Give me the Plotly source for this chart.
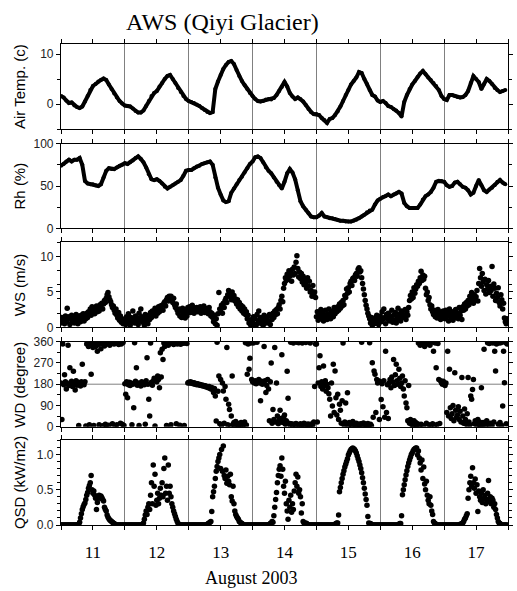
import pandas as pd
import plotly.graph_objects as go

# ---------------- data ----------------
START = "2003-08-11 00:00"
END = "2003-08-18 00:00"

# hourly air temperature (deg C), Aug 11..17
temp_d11 = [1.6,1.3,0.7,0.2,0.3,-0.3,-0.6,-0.8,-0.5,0.5,1.6,2.8,3.6,4.0,4.5,4.8,5.1,4.8,3.9,3.0,2.1,1.3,0.6,0.1]
temp_d12 = [-0.3,-0.4,-0.5,-0.9,-1.4,-1.7,-1.7,-1.3,-0.4,0.6,1.6,2.2,2.6,3.5,4.2,5.0,5.6,5.8,5.0,4.2,3.2,2.4,1.6,1.0]
temp_d13 = [0.6,0.4,0.2,-0.1,-0.4,-0.8,-1.2,-1.6,-1.8,-1.6,3.0,4.5,5.8,7.0,7.8,8.4,8.6,8.0,6.8,5.6,4.6,3.8,3.0,2.2]
temp_d14 = [1.6,1.0,0.6,0.5,0.6,0.9,1.0,0.9,1.2,1.8,2.6,3.4,4.4,3.5,2.2,1.5,1.0,1.3,1.0,0.5,-0.2,-1.0,-1.6,-2.0]
temp_d15 = [-2.0,-2.2,-2.8,-3.2,-3.8,-3.0,-2.8,-2.2,-1.5,-0.5,0.6,1.8,2.8,3.9,4.6,5.3,6.4,6.2,5.0,4.0,2.8,1.8,1.5,0.7]
temp_d16 = [0.4,0.6,0.2,-0.4,-0.6,-1.0,-1.3,-1.8,-2.5,0.4,1.8,3.0,3.9,4.6,5.4,6.1,6.6,6.0,5.3,4.8,4.2,3.6,2.8,1.6]
temp_d17 = [1.0,0.8,1.8,1.8,1.6,1.4,1.3,1.4,1.8,2.6,4.2,5.6,5.0,4.4,3.0,4.0,5.0,4.6,4.0,3.2,2.8,2.4,2.6,2.8]

# hourly relative humidity (%)
rh_d11 = [74,76,79,81,79,81,81,83,75,56,53,52,52,51,50,52,60,68,71,70,70,72,74,75]
rh_d12 = [77,76,78,80,83,85,82,78,72,64,58,57,58,56,53,49,47,49,51,53,55,57,62,68]
rh_d13 = [69,69,71,73,74,76,77,78,79,75,60,48,40,33,31,32,42,47,52,57,61,66,71,76]
rh_d14 = [79,84,85,83,78,72,68,65,60,55,51,47,55,65,70,66,58,45,32,26,22,18,14,13]
rh_d15 = [13,15,18,14,13,12,12,11,10,9,9,8,8,8,9,10,12,14,16,19,21,22,28,33]
rh_d16 = [35,37,38,40,38,40,41,43,41,30,26,24,24,24,24,28,34,38,40,43,48,55,56,56]
rh_d17 = [55,51,49,50,54,55,52,49,48,45,40,42,50,57,51,45,43,46,48,51,55,57,54,52]

# 20-minute wind speed (m/s)
ws_d11 = [0.6,1.4,0.9, 1.2,0.5,1.6, 0.8,2.7,1.1, 1.5,0.4,1.3, 1.7,0.9,1.4, 0.6,1.5,1.8,
          1.0,0.5,1.6, 1.3,0.8,1.7, 1.1,1.9,0.9, 1.6,1.2,2.0, 1.4,2.2,1.8, 2.6,1.7,2.9,
          2.1,2.7,1.9, 2.4,3.0,2.2, 2.8,2.3,3.2, 2.9,3.4,2.6, 3.3,3.8,3.5, 4.1,4.6,4.9,
          4.3,3.9,3.6, 3.2,2.8,3.0, 2.4,2.0,2.6, 1.7,1.3,2.1, 1.0,1.6,0.7, 1.2,0.5,1.0]
ws_d12 = [1.0,0.4,1.5, 0.7,1.9,1.2, 0.3,1.4,0.8, 2.3,1.1,0.6, 1.6,0.9,1.3, 0.4,2.0,1.0,
          2.6,1.5,0.7, 1.2,0.3,1.8, 0.9,1.4,0.5, 1.7,1.1,2.1, 1.4,2.3,1.8, 2.0,2.7,1.6,
          2.5,2.0,2.9, 2.2,3.0,2.6, 3.1,2.4,3.4, 3.6,3.0,3.9, 4.2,3.7,4.4, 4.0,4.4,3.8,
          3.5,4.1,3.2, 2.8,3.3,2.4, 2.0,2.6,1.6, 2.3,1.4,2.7, 1.8,2.5,1.3, 2.2,1.6,2.8]
ws_d13 = [2.4,2.9,2.1, 2.6,3.1,2.3, 2.0,2.7,2.5, 2.8,2.2,2.6, 2.3,2.9,2.0, 2.6,2.4,3.0,
          2.1,2.7,2.4, 2.5,1.9,2.8, 2.2,1.6,2.0, 1.4,0.8,1.7, 0.5,1.2,0.3, 1.9,4.9,2.6,
          2.3,3.1,2.0, 3.4,2.8,3.8, 4.1,3.5,4.6, 5.2,4.4,4.9, 3.9,5.0,4.3, 4.5,3.7,4.0,
          3.3,3.9,2.9, 3.5,2.6,3.1, 2.3,2.9,2.0, 2.6,1.8,2.2, 1.2,1.7,0.6, 0.9,0.3,1.1]
ws_d14 = [0.8,1.5,0.4, 1.2,0.3,1.8, 0.6,2.3,1.0, 1.4,0.5,1.1, 0.3,1.7,0.9, 1.3,0.6,1.5,
          0.9,1.8,0.4, 1.6,1.1,2.0, 1.4,2.3,1.8, 2.5,1.9,2.8, 3.2,2.6,3.8, 4.4,3.6,5.5,
          6.2,7.0,6.6, 7.5,6.8,8.0, 7.2,7.8,6.5, 8.2,7.4,8.5, 7.6,9.2,10.1, 8.3,7.1,7.8,
          6.9,7.6,6.4, 7.2,6.0,6.8, 6.3,5.5,7.0, 5.8,6.5,5.0, 5.2,4.4,5.9, 4.5,5.0,4.2]
ws_d15 = [1.5,2.2,1.0, 1.8,1.2,2.5, 1.4,2.0,0.9, 1.7,2.4,1.3, 1.1,1.9,2.6, 1.6,1.2,2.1,
          2.3,1.5,2.8, 1.9,2.6,2.2, 2.9,2.4,3.3, 2.7,3.5,3.0, 3.8,3.2,4.5, 4.2,5.4,4.8,
          5.6,5.0,6.2, 6.5,5.9,6.9, 7.0,6.6,7.4, 7.6,7.2,8.2, 8.4,7.8,8.0, 7.0,6.2,5.4,
          4.6,3.8,3.1, 2.6,2.0,1.6, 1.2,0.6,1.4, 0.3,1.0,0.5, 1.3,0.8,1.7, 1.0,0.4,1.5]
ws_d16 = [1.6,0.8,2.2, 1.1,2.6,1.4, 0.5,1.8,1.2, 2.0,0.9,1.5, 1.3,2.4,0.7, 1.7,1.0,2.1,
          0.6,1.5,2.7, 1.2,1.9,0.9, 2.3,1.4,1.8, 1.6,2.5,1.1, 2.2,1.7,2.8, 3.8,4.5,4.0,
          5.0,4.2,5.6, 4.8,5.4,6.0, 5.8,6.5,6.2, 7.0,7.9,6.6, 7.4,6.8,7.2, 5.5,4.6,5.0,
          3.8,4.2,3.2, 2.6,3.0,2.2, 1.8,2.4,1.5, 2.0,1.3,2.5, 1.6,2.2,1.1, 1.9,1.4,2.3]
ws_d17 = [1.8,1.2,2.4, 1.5,2.1,0.9, 2.6,1.7,1.3, 2.2,1.0,1.9, 1.4,2.5,1.6, 2.0,1.2,2.8,
          1.7,2.3,1.1, 2.9,2.4,3.3, 2.6,3.5,3.0, 3.8,3.2,4.4, 3.6,4.9,4.1, 3.4,4.6,3.9,
          4.3,5.2,3.7, 6.2,8.3,7.0, 5.8,7.6,6.4, 5.2,6.8,4.7, 6.0,5.4,6.6, 4.9,5.8,5.2,
          8.6,4.4,6.1, 5.5,3.8,4.8, 4.2,5.6,3.5, 3.0,4.6,3.9, 2.6,3.4,1.3, 0.8,0.5,1.2]

# 20-minute wind direction (degree)
wd_d11 = [185,30,350, 178,220,190, 160,182,345, 175,250,188, 192,170,235, 183,155,195,
          176,188,5, 180,172,190, 265,185,178, 190,3,350, 355,340,8, 358,222,352,
          335,5,350, 340,355,320, 348,8,357, 330,352,4, 356,342,10, 6,350,358,
          6,345,355, 358,12,352, 350,4,357, 8,355,348, 356,15,350, 10,357,5]
wd_d12 = [182,137,190, 123,178,188, 175,185,8, 180,80,356, 192,250,176, 185,5,180,
          172,190,183, 186,178,10, 195,292,180, 116,45,355, 188,176,192, 205,3,198,
          190,215,200, 165,313,210, 328,285,355, 340,358,5, 350,345,357, 352,8,356,
          358,348,354, 355,12,350, 357,352,6, 349,356,358, 353,5,355, 358,352,185]
wd_d13 = [188,185,190, 184,187,182, 186,180,183, 178,182,180, 176,179,175, 177,172,174,
          170,173,168, 168,165,170, 163,160,166, 158,145,162, 130,24,358, 150,215,12,
          200,5,185, 151,15,170, 116,335,8, 95,73,3, 45,215,10, 18,5,22,
          8,14,3, 12,6,18, 4,15,9, 20,356,7, 222,350,243, 290,355,200]
wd_d14 = [190,355,185, 195,182,358, 188,200,185, 110,192,180, 186,340,195, 145,175,200,
          160,25,190, 270,15,73, 30,335,20, 185,45,12, 28,70,35, 305,18,40,
          50,10,25, 235,120,15, 8,358,12, 5,355,10, 3,14,358, 9,356,6,
          12,4,354, 7,15,3, 357,10,5, 11,2,355, 6,13,8, 20,170,350]
wd_d15 = [350,20,185, 250,300,170, 190,160,257, 175,195,150, 180,165,140, 116,45,185,
          88,264,60, 236,123,50, 137,30,95, 70,15,110, 355,8,20, 100,12,144,
          5,18,10, 14,3,22, 8,12,4, 15,6,10, 3,9,13, 358,7,16,
          5,11,2, 8,14,6, 356,10,4, 271,40,236, 222,60,200, 185,195,30]
wd_d16 = [190,115,182, 85,195,40, 320,60,178, 35,185,200, 165,210,190, 285,175,220,
          264,195,180, 243,205,170, 185,215,160, 130,195,100, 80,25,175, 15,30,10,
          20,5,25, 8,18,3, 12,355,6, 345,10,358, 352,4,340, 357,15,350,
          356,8,345, 5,358,12, 320,3,355, 250,9,352, 200,14,195, 186,180,192]
wd_d17 = [180,175,185, 60,320,45, 243,80,35, 55,90,25, 229,70,40, 50,85,30,
          65,20,208, 45,15,75, 30,10,55, 208,20,8, 130,116,158, 200,12,25,
          15,5,30, 10,20,3, 165,8,18, 328,12,5, 25,356,10, 352,15,358,
          6,355,20, 320,236,350, 358,10,354, 18,356,5, 88,320,186, 357,12,350]

# 20-minute shortwave radiation (kW/m2)
qsd_d11 = [0,0,0, 0,0,0, 0,0,0, 0,0,0, 0,0,0, 0,0,0,
           0,0,0.01, 0.04,0.1,0.16, 0.22,0.26,0.29, 0.31,0.36,0.42, 0.46,0.52,0.56, 0.6,0.7,0.5,
           0.45,0.48,0.42, 0.38,0.22,0.32, 0.4,0.42,0.38, 0.41,0.39,0.36, 0.34,0.25,0.22, 0.2,0.14,0.11,
           0.09,0.07,0.06, 0.05,0.04,0.03, 0.02,0.01,0, 0,0,0, 0,0,0, 0,0,0]
qsd_d12 = [0,0,0, 0,0,0, 0,0,0, 0,0,0, 0,0,0, 0,0,0,
           0,0,0.01, 0.03,0.08,0.14, 0.2,0.15,0.25, 0.3,0.22,0.42, 0.6,0.3,0.85, 0.55,0.72,0.28,
           0.35,0.45,0.3, 0.38,0.52,0.42, 0.6,0.4,0.8, 0.95,0.45,0.55, 0.35,0.85,0.45, 0.55,0.4,0.3,
           0.25,0.2,0.16, 0.12,0.08,0.05, 0.02,0.01,0, 0,0,0, 0,0,0, 0,0,0]
qsd_d13 = [0,0,0, 0,0,0, 0,0,0, 0,0,0, 0,0,0, 0,0,0,
           0,0,0, 0.01,0.02,0.03, 0.04,0.05,0.19, 0.4,0.47,0.55, 0.66,0.76,0.83, 0.9,0.95,1.0,
           0.8,1.07,0.76, 1.12,0.7,0.66, 0.78,0.59,0.69, 0.62,0.57,0.72, 0.4,0.34,0.55, 0.3,0.2,0.15,
           0.12,0.1,0.08, 0.05,0.04,0.03, 0.02,0.01,0, 0,0,0, 0,0,0, 0,0,0]
qsd_d14 = [0,0,0, 0,0,0, 0,0,0, 0,0,0, 0,0,0, 0,0,0,
           0,0.01,0.02, 0.03,0.05,0.04, 0.13,0.25,0.36, 0.46,0.6,0.7, 0.79,0.84,0.69, 0.95,0.79,0.55,
           0.45,0.62,0.3, 0.2,0.08,0.35, 0.25,0.42,0.18, 0.3,0.22,0.48, 0.6,0.72,0.55, 0.68,0.45,0.5,
           0.4,0.17,0.3, 0.05,0.03,0.02, 0.03,0.02,0.01, 0,0,0, 0,0,0, 0,0,0]
qsd_d15 = [0,0,0, 0,0,0, 0,0,0, 0,0,0, 0,0,0, 0,0,0,
           0,0,0, 0.01,0.02,0.03, 0.03,0.14,0.47, 0.53,0.6,0.66, 0.72,0.77,0.82, 0.86,0.9,0.94,
           0.99,1.02,1.05, 1.07,1.08,1.09, 1.08,1.07,1.05, 1.02,0.98,0.94, 0.9,0.85,0.8, 0.74,0.67,0.6,
           0.52,0.44,0.36, 0.28,0.12,0.03, 0.02,0.02,0.01, 0,0,0, 0,0,0, 0,0,0]
qsd_d16 = [0,0,0, 0,0,0, 0,0,0, 0,0,0, 0,0,0, 0,0,0,
           0,0,0, 0.01,0.02,0.02, 0.13,0.43,0.5, 0.57,0.64,0.71, 0.77,0.83,0.88, 0.92,0.96,1.0,
           1.02,1.05,1.07, 1.08,1.09,1.09, 0.99,1.05,0.95, 0.88,0.78,0.92, 0.66,0.82,0.58, 0.5,0.62,0.42,
           0.35,0.3,0.4, 0.28,0.2,0.15, 0.05,0.03,0.02, 0,0,0, 0,0,0, 0,0,0]
qsd_d17 = [0,0,0, 0,0,0, 0,0,0, 0,0,0, 0,0,0, 0,0,0,
           0.01,0.01,0.02, 0.03,0.05,0.08, 0.1,0.13,0.16, 0.38,0.5,0.6, 0.69,0.55,0.81, 0.6,0.52,0.65,
           0.45,0.57,0.19, 0.48,0.4,0.35, 0.45,0.32,0.5, 0.38,0.42,0.3, 0.36,0.45,0.63, 0.33,0.4,0.3,
           0.38,0.35,0.25, 0.3,0.22,0.15, 0.1,0.05,0.03, 0.02,0,0, 0,0,0, 0,0,0]

panel_titles = ["Air Temp. (c)", "Rh (%)", "WS (m/s)", "WD (degree)", "QSD (kW/m2)"]

temp_c = temp_d11 + temp_d12 + temp_d13 + temp_d14 + temp_d15 + temp_d16 + temp_d17
rh_pct = rh_d11 + rh_d12 + rh_d13 + rh_d14 + rh_d15 + rh_d16 + rh_d17
ws_ms = ws_d11 + ws_d12 + ws_d13 + ws_d14 + ws_d15 + ws_d16 + ws_d17
wd_deg = wd_d11 + wd_d12 + wd_d13 + wd_d14 + wd_d15 + wd_d16 + wd_d17
qsd_kw = qsd_d11 + qsd_d12 + qsd_d13 + qsd_d14 + qsd_d15 + qsd_d16 + qsd_d17

t_hour = pd.date_range(START, periods=len(temp_c), freq="h")
t_20 = pd.date_range(START, periods=len(ws_ms), freq="20min")

# ---------------- figure ----------------
W, H = 517, 591
L, R, T, B = 61, 4, 44, 66
ph = H - T - B
panels_px = [(44, 129), (143.7, 228.3), (242.3, 327.3), (341.7, 426.7), (440.3, 525)]
domains = [[(H - B - b) / ph, (H - B - t) / ph] for (t, b) in panels_px]

fig = go.Figure()
mk = dict(color="black", size=5.5)
fig.add_trace(go.Scatter(x=t_hour, y=temp_c, mode="lines+markers",
                         line=dict(color="black", width=4), marker=dict(color="black", size=4),
                         xaxis="x", yaxis="y"))
fig.add_trace(go.Scatter(x=t_hour, y=rh_pct, mode="lines+markers",
                         line=dict(color="black", width=4), marker=dict(color="black", size=4),
                         xaxis="x2", yaxis="y2"))
fig.add_trace(go.Scatter(x=t_20, y=ws_ms, mode="markers", marker=mk, xaxis="x3", yaxis="y3"))
fig.add_trace(go.Scatter(x=t_20, y=wd_deg, mode="markers", marker=mk, xaxis="x4", yaxis="y4"))
fig.add_trace(go.Scatter(x=t_20, y=qsd_kw, mode="markers", marker=mk, xaxis="x5", yaxis="y5"))

sans = "Liberation Sans, Arial, sans-serif"
serif = "Liberation Serif, Times New Roman, serif"

xcommon = dict(type="date", range=[START, END], showline=True, linecolor="black", linewidth=1.2,
               mirror="allticks", ticks="outside", ticklen=4, tickcolor="black",
               tick0=START, dtick=86400000, showgrid=True, gridcolor="#808080", gridwidth=1,
               zeroline=False,
               minor=dict(dtick=43200000, ticks="outside", ticklen=4, tickcolor="black", showgrid=False))

yspecs = [
    dict(range=[-5, 12], tick0=0, dtick=10, minor=dict(dtick=5)),
    dict(range=[0, 100], tick0=0, dtick=50, minor=dict(dtick=25)),
    dict(range=[0, 12], tick0=0, dtick=5, minor=dict(dtick=2)),
    dict(range=[0, 360], tick0=0, dtick=90, minor=dict(dtick=45)),
    dict(range=[0, 1.2], tick0=0, dtick=0.5, tickformat=".1f", minor=dict(dtick=0.1)),
]

layout = dict(width=W, height=H, margin=dict(l=L, r=R, t=T, b=B),
              paper_bgcolor="white", plot_bgcolor="white", showlegend=False)

for i in range(5):
    n = "" if i == 0 else str(i + 1)
    xa = dict(xcommon)
    xa["anchor"] = "y" + n
    xa["domain"] = [0, 1]
    if i < 4:
        xa["matches"] = "x5"
        xa["showticklabels"] = False
    else:
        xa["showticklabels"] = True
        xa["ticklabelmode"] = "period"
        xa["tickformat"] = "%d"
        xa["tickfont"] = dict(family=serif, size=17, color="black")
        xa["ticklabelstandoff"] = 7
    layout["xaxis" + n] = xa

    ys = yspecs[i]
    ya = dict(domain=domains[i], anchor="x" + n, range=ys["range"], tick0=ys["tick0"], dtick=ys["dtick"],
              showline=True, linecolor="black", linewidth=1.2, mirror="allticks",
              ticks="outside", ticklen=4, tickcolor="black", showgrid=False, zeroline=False,
              tickfont=dict(family=sans, size=12, color="#222"),
              minor=dict(dtick=ys["minor"]["dtick"], ticks="outside", ticklen=3, tickcolor="black",
                         showgrid=False))
    if "tickformat" in ys:
        ya["tickformat"] = ys["tickformat"]
    layout["yaxis" + n] = ya

fig.update_layout(**layout)

# horizontal reference line at 180 degrees in the WD panel
fig.add_shape(type="line", xref="x4 domain", yref="y4", x0=0, x1=1, y0=180, y1=180,
              line=dict(color="#808080", width=1), layer="below")

# panel titles
for i, txt in enumerate(panel_titles):
    n = "" if i == 0 else str(i + 1)
    fig.add_annotation(text=txt, xref="paper", yref="y" + n + " domain",
                       x=(19 - L) / (W - L - R), y=0.5, textangle=-90, showarrow=False,
                       xanchor="center", yanchor="middle",
                       font=dict(family=sans, size=15, color="black"))

fig.add_annotation(text="AWS (Qiyi Glacier)", xref="paper", yref="paper",
                   x=(224 - L) / (W - L - R), y=(H - B - 22) / ph, showarrow=False,
                   xanchor="center", yanchor="middle",
                   font=dict(family=serif, size=24, color="black"))
fig.add_annotation(text="August 2003", xref="paper", yref="paper",
                   x=(254 - L) / (W - L - R), y=(H - B - 578) / ph, showarrow=False,
                   xanchor="center", yanchor="middle",
                   font=dict(family=serif, size=18, color="black"))

fig.write_html("out.html", config={"displayModeBar": False},
               post_script="document.body.style.margin='0';document.body.style.padding='0';")
